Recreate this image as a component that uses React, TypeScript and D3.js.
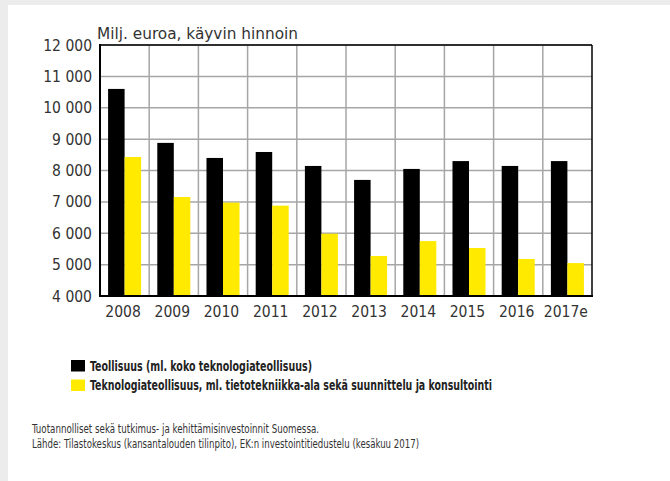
import React from "react";
import * as d3 from "d3";

const categories = ["2008", "2009", "2010", "2011", "2012", "2013", "2014", "2015", "2016", "2017e"];
const teollisuus = [10600, 8880, 8400, 8590, 8145, 7700, 8050, 8300, 8145, 8300];
const teknologia = [8430, 7155, 6975, 6880, 5985, 5275, 5750, 5530, 5180, 5050];
const yTicks = [4000, 5000, 6000, 7000, 8000, 9000, 10000, 11000, 12000];
const seriesNames = [
  "Teollisuus (ml. koko teknologiateollisuus)",
  "Teknologiateollisuus, ml. tietotekniikka-ala sekä suunnittelu ja konsultointi",
];
const seriesColors = ["#000000", "#ffea00"];
const yTitle = "Milj. euroa, käyvin hinnoin";
const footer = [
  "Tuotannolliset sekä tutkimus- ja kehittämisinvestoinnit Suomessa.",
  "Lähde: Tilastokeskus (kansantalouden tilinpito), EK:n investointitiedustelu (kesäkuu 2017)",
];

const W = 670, H = 481;
const L = 100, R = 592, T = 45, B = 296;
const font = "'DejaVu Sans Condensed', 'Liberation Sans Narrow', sans-serif";

export default function App() {
  const x = d3.scaleBand<string>().domain(categories).range([L, R]).paddingInner(0).paddingOuter(0);
  const y = d3.scaleLinear().domain([4000, 12000]).range([B, T]);
  const bw = x.bandwidth();
  const sub = d3.scaleBand<number>().domain([0, 1]).range([0, bw]).paddingOuter(0.49).paddingInner(0);
  const fmt = (v: number) => d3.format(",")(v).replace(/,/g, " ");
  const series = [teollisuus, teknologia];
  return (
    <svg width={W} height={H} style={{ position: "absolute", left: 0, top: 0, display: "block" }}>
      <rect x={0} y={0} width={W} height={H} fill="#ececec" />
      <rect x={8} y={5} width={W - 8} height={H - 5} fill="#ffffff" />
      {/* grid */}
      {yTicks.map((t) => (
        <line key={"gy" + t} x1={L} x2={R} y1={y(t)} y2={y(t)} stroke="#a6a6a6" strokeWidth={1.5} />
      ))}
      {categories.map((c, i) =>
        i > 0 ? (
          <line key={"gx" + c} x1={x(c)!} x2={x(c)!} y1={T} y2={B} stroke="#a6a6a6" strokeWidth={1.5} />
        ) : null
      )}
      {/* bars */}
      {series.map((s, si) =>
        s.map((v, i) => (
          <rect
            key={si + "-" + i}
            x={x(categories[i])! + sub(si)!}
            y={y(v)}
            width={sub.bandwidth()}
            height={B - y(v)}
            fill={seriesColors[si]}
          />
        ))
      )}
      {/* frame */}
      <line x1={L} x2={R} y1={T} y2={T} stroke="#000" strokeWidth={1.5} />
      <line x1={R} x2={R} y1={T} y2={B} stroke="#000" strokeWidth={1.5} />
      <line x1={L} x2={L} y1={T - 1} y2={B + 1} stroke="#000" strokeWidth={2} />
      <line x1={L - 1} x2={R + 1} y1={B} y2={B} stroke="#000" strokeWidth={2} />
      {/* y tick labels */}
      {yTicks.map((t) => (
        <text key={"ty" + t} x={92} y={y(t) + 5.5} textAnchor="end" fontFamily={font} fontSize={15.5} fill="#333">
          {fmt(t)}
        </text>
      ))}
      {/* x labels */}
      {categories.map((c) => (
        <text key={"tx" + c} x={x(c)! + bw / 2 - 1.5} y={317} textAnchor="middle" fontFamily={font} fontSize={15.5} fill="#333">
          {c}
        </text>
      ))}
      <text x={97} y={39} fontFamily={font} fontSize={16} fill="#333" textLength={201} lengthAdjust="spacingAndGlyphs">
        {yTitle}
      </text>
      {/* legend */}
      {seriesNames.map((n, i) => (
        <g key={"lg" + i}>
          <rect x={71} y={360 + i * 19.5} width={14} height={11.5} fill={seriesColors[i]} />
          <text
            x={90}
            y={370.5 + i * 19.5}
            fontFamily={font}
            fontWeight="bold"
            fontSize={14}
            fill="#222"
            textLength={i === 0 ? 222 : 402}
            lengthAdjust="spacingAndGlyphs"
          >
            {n}
          </text>
        </g>
      ))}
      {footer.map((f, i) => (
        <text
          key={"ft" + i}
          x={32}
          y={433 + i * 15}
          fontFamily={font}
          fontSize={12}
          fill="#333"
          textLength={i === 0 ? 287 : 387}
          lengthAdjust="spacingAndGlyphs"
        >
          {f}
        </text>
      ))}
    </svg>
  );
}
